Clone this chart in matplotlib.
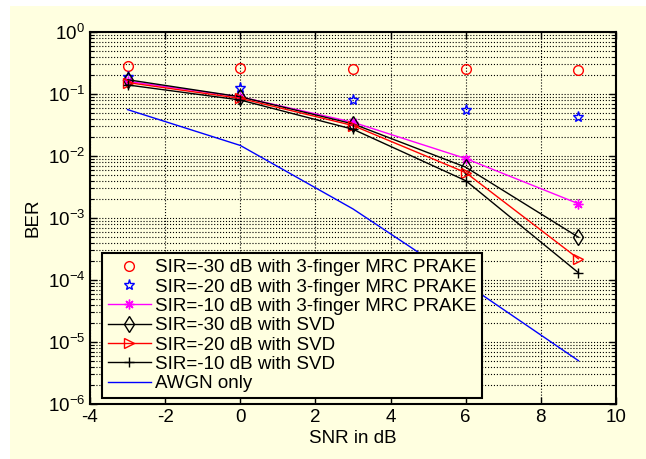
import numpy as np
import matplotlib
matplotlib.use('Agg')
import matplotlib.pyplot as plt
from matplotlib.patches import Rectangle
from matplotlib.ticker import LogLocator, NullFormatter

plt.rcParams['font.family'] = ['Liberation Sans', 'DejaVu Sans']
plt.rcParams['mathtext.default'] = 'regular'
plt.rcParams['axes.unicode_minus'] = False
plt.rcParams['font.size'] = 13.5

bg = '#FFFFE0'

# Dados
snr = [-3, 0, 3, 6, 9]
mrc_30 = [0.286, 0.26, 0.25, 0.25, 0.24]
mrc_20 = [0.19, 0.124, 0.080, 0.055, 0.043]
mrc_10 = [0.16, 0.09, 0.035, 0.0091, 0.0017]
svd_30 = [0.17, 0.09, 0.033, 0.0066, 0.00049]
svd_20 = [0.153, 0.085, 0.031, 0.0054, 0.00022]
svd_10 = [0.14, 0.08, 0.027, 0.004, 0.000131]
awgn = [0.056, 0.0148, 0.0014, 8.7e-5, 5.0e-6]

labels = ['SIR=-30 dB with 3-finger MRC PRAKE',
          'SIR=-20 dB with 3-finger MRC PRAKE',
          'SIR=-10 dB with 3-finger MRC PRAKE',
          'SIR=-30 dB with SVD',
          'SIR=-20 dB with SVD',
          'SIR=-10 dB with SVD',
          'AWGN only']

fig = plt.figure(figsize=(6.46, 4.59), dpi=100)
fig.patch.set_facecolor('white')
fig.add_artist(Rectangle((10 / 646, 0), 1, 1 - 6 / 459, transform=fig.transFigure,
                         facecolor=bg, edgecolor='none', zorder=-10))

ax = fig.add_axes([90 / 646, 55 / 459, 526 / 646, 372 / 459])
ax.set_facecolor(bg)

ax.semilogy(snr, mrc_30, 'o', color='red', mfc='none', ms=7, mew=1.0, label=labels[0])
ax.semilogy(snr, mrc_20, '*', color='blue', mfc='none', ms=8, mew=1.0, label=labels[1])
ax.semilogy(snr, mrc_10, marker=(8, 2, 0), color='#FF00FF', ms=7, mew=1.0, lw=1.0, label=labels[2])
ax.semilogy(snr, svd_30, marker='d', color='black', mfc='none', ms=8, mew=1.0, lw=1.0, label=labels[3])
ax.semilogy(snr, svd_20, marker='>', color='red', mfc='none', ms=7.5, mew=1.0, lw=1.0, label=labels[4])
ax.semilogy(snr, svd_10, marker='+', color='black', ms=7, mew=1.0, lw=1.0, label=labels[5])
ax.semilogy(snr, awgn, '-', color='blue', lw=1.0, label=labels[6])

ax.set_xlim(-4, 10)
ax.set_ylim(1e-6, 1)
ax.set_xticks(range(-4, 11, 2))
ax.yaxis.set_major_locator(LogLocator(base=10, numticks=10))
ax.yaxis.set_minor_locator(LogLocator(base=10, subs=np.arange(2, 10), numticks=100))
ax.yaxis.set_minor_formatter(NullFormatter())

ax.grid(True, which='major', linestyle=':', color='black', linewidth=0.8)
ax.grid(True, which='minor', axis='y', linestyle=':', color='black', linewidth=0.8)

ax.tick_params(which='both', direction='in', top=True, right=True)
ax.tick_params(which='major', length=5, width=1)
ax.tick_params(which='minor', length=3, width=0.8)
for s in ax.spines.values():
    s.set_linewidth(1.5)

ax.set_xlabel('SNR in dB', labelpad=3)
ax.set_ylabel('BER')

leg = ax.legend(loc='lower left', bbox_to_anchor=(0.023, 0.016), fancybox=False,
                framealpha=1, facecolor=bg, edgecolor='black', borderpad=0.3,
                labelspacing=0.12, handlelength=2.3, handletextpad=0.2,
                borderaxespad=0)
leg.get_frame().set_linewidth(1.5)

plt.savefig('out.png', dpi=100, facecolor=fig.get_facecolor())
